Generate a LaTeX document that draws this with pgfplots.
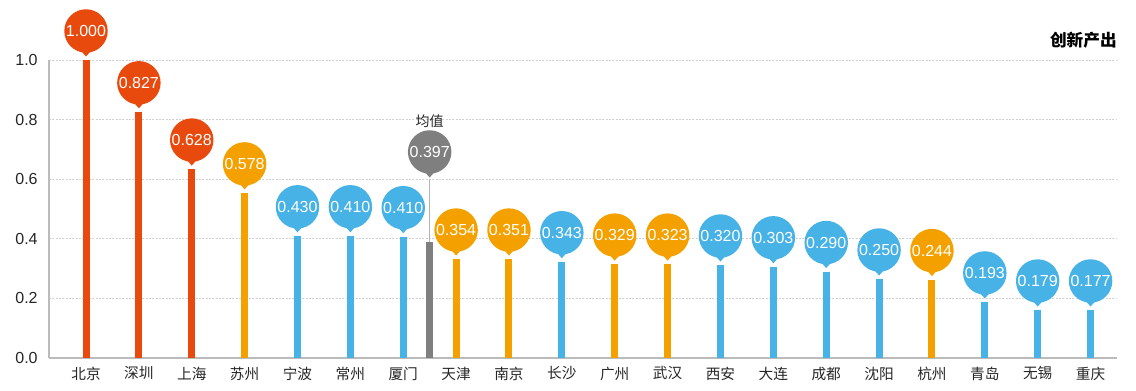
\documentclass[border=0pt]{standalone}
\usepackage{pgfplots}
\usepackage{pgfplotstable}
\pgfplotsset{compat=1.18}
\usepackage{fontspec}
\setmainfont{Liberation Sans}
\newfontfamily\cjk{Noto Sans CJK SC}
\definecolor{cred}{HTML}{E84A0E}
\definecolor{corange}{HTML}{F4A100}
\definecolor{cblue}{HTML}{47B2E6}
\definecolor{cgray}{HTML}{7F7F7F}
\definecolor{cgrid}{HTML}{D0D0D0}
\definecolor{caxis}{HTML}{BBBBBB}
\pgfdeclareplotmark{balloon}{%
  \pgfpathcircle{\pgfpoint{0pt}{21.75pt}}{16.3pt}%
  \pgfusepathqfill
  \pgfpathmoveto{\pgfpoint{-6pt}{9.5pt}}%
  \pgfpathlineto{\pgfpoint{0pt}{2.6pt}}%
  \pgfpathlineto{\pgfpoint{6pt}{9.5pt}}%
  \pgfpathclose
  \pgfusepathqfill}
\pgfplotstableread{
x bar lab
0 1.000 1.000
1 0.826 0.827
2 0.634 0.628
}\tred
\pgfplotstableread{
x bar lab
3 0.554 0.578
7 0.332 0.354
8 0.332 0.351
10 0.315 0.329
11 0.315 0.323
16 0.263 0.244
}\torange
\pgfplotstableread{
x bar lab
4 0.410 0.430
5 0.410 0.410
6 0.407 0.410
9 0.323 0.343
12 0.312 0.320
13 0.306 0.303
14 0.290 0.290
15 0.265 0.250
17 0.188 0.193
18 0.161 0.179
19 0.161 0.177
}\tblue
\pgfplotstableread{
x bar pin lab
6.5 0.388 0.594 0.397
}\tmean
\begin{document}
\begin{tikzpicture}
\begin{axis}[name=ax,
  scale only axis, width=801pt, height=223.5pt,
  xmin=-0.7, xmax=19.5, ymin=0, ymax=1.0,
  clip=false,
  axis lines*=left,
  axis line style={caxis, line width=0.8pt},
  ytick={0,0.2,...,1.0},
  ymajorgrids,
  grid style={cgrid, dash pattern=on 1.5pt off 1pt, line width=0.5pt},
  /pgf/number format/assume math mode=true,
  yticklabel style={/pgf/number format/fixed, /pgf/number format/fixed zerofill, /pgf/number format/precision=1, font=\fontsize{12}{13}\selectfont, text=black!85, xshift=-5pt},
  y tick style={draw=none},
  xtick={0,...,19},
  xticklabels={北京,深圳,上海,苏州,宁波,常州,厦门,天津,南京,长沙,广州,武汉,西安,大连,成都,沈阳,杭州,青岛,无锡,重庆},
  xticklabel style={font=\cjk\fontsize{11}{12}\selectfont, text=black!85, yshift=-3pt},
  x tick style={draw=none},
  extra x ticks={0.5,1.5,...,19.5},
  extra x tick labels={},
  extra x tick style={tick align=inside, major tick length=4.5pt, tick style={draw=caxis, line width=0.6pt}, grid=none},
  every axis plot/.append style={line cap=butt},
  nodes near coords align={anchor=center},
  every node near coord/.append style={anchor=center, yshift=21.75pt, text=white, font=\fontsize{12}{12}\selectfont, inner sep=0pt},
]
% bars
\addplot[ycomb, cred, line width=5.25pt, mark=none] table[x=x, y=bar] {\tred};
\addplot[ycomb, corange, line width=5.25pt, mark=none] table[x=x, y=bar] {\torange};
\addplot[ycomb, cblue, line width=5.25pt, mark=none] table[x=x, y=bar] {\tblue};
\addplot[ycomb, cgray, line width=5.25pt, mark=none] table[x=x, y=bar] {\tmean};
\addplot[cgray!60, line width=0.6pt] coordinates {(6.5,0.388) (6.5,0.60)};
% balloons
\addplot[only marks, mark=balloon, mark options={fill=cred}, nodes near coords, point meta=explicit symbolic] table[x=x, y=bar, meta=lab] {\tred};
\addplot[only marks, mark=balloon, mark options={fill=corange}, nodes near coords, point meta=explicit symbolic] table[x=x, y=bar, meta=lab] {\torange};
\addplot[only marks, mark=balloon, mark options={fill=cblue}, nodes near coords, point meta=explicit symbolic] table[x=x, y=bar, meta=lab] {\tblue};
\addplot[only marks, mark=balloon, mark options={fill=cgray}, nodes near coords, point meta=explicit symbolic] table[x=x, y=pin, meta=lab] {\tmean};
\node[font=\cjk\fontsize{10.5}{12}\selectfont, text=black!85] at (axis cs:6.5,0.795) {均值};
\node[anchor=east, font=\cjk\fontsize{12.5}{14}\bfseries, inner sep=0pt] at ([yshift=15pt]rel axis cs:1,1) {创新产出};
\end{axis}
\pgfresetboundingbox
\path (ax.south west) ++(-36.75pt,-24.75pt) coordinate (bl);
\path (ax.south west) ++(815.25pt,268.5pt) coordinate (tr);
\useasboundingbox (bl) rectangle (tr);
\end{tikzpicture}
\end{document}
